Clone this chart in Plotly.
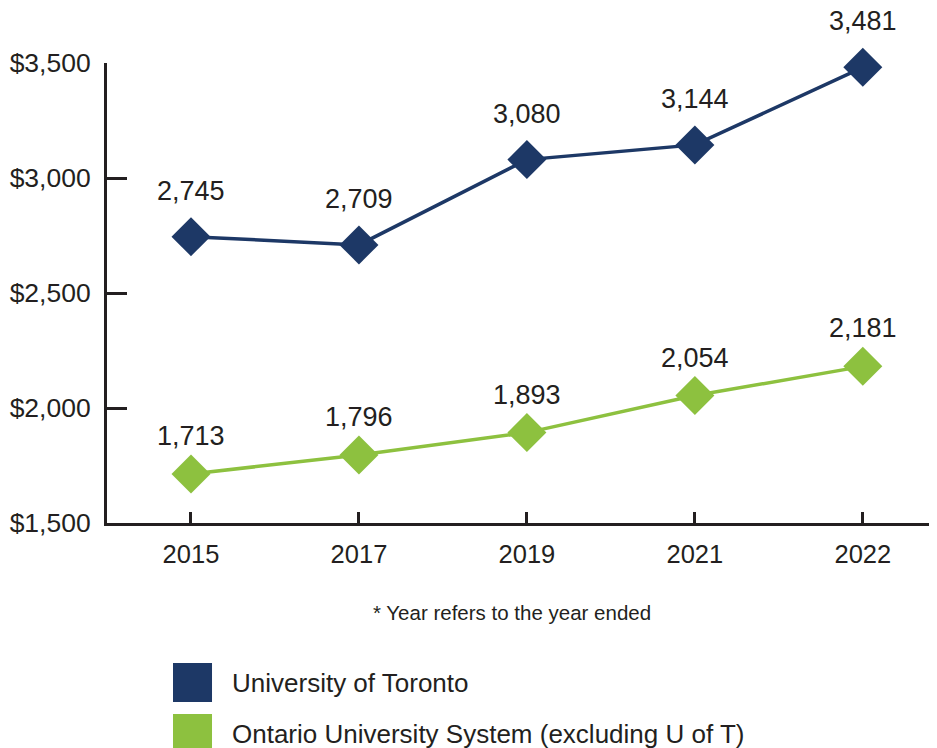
import plotly.graph_objects as go

years = ['2015', '2017', '2019', '2021', '2022']
uoft = [2745, 2709, 3080, 3144, 3481]
ontario = [1713, 1796, 1893, 2054, 2181]
y_ticks = [1500, 2000, 2500, 3000, 3500]
y_ticklabels = ['$1,500', '$2,000', '$2,500', '$3,000', '$3,500']
series_names = ['University of Toronto', 'Ontario University System (excluding U of T)']

navy = '#1d3866'
green = '#8dc13f'
ink = '#231f20'
font_fam = 'Liberation Sans, Arial, sans-serif'

x = list(range(len(years)))

fig = go.Figure()
fig.add_trace(go.Scatter(x=x, y=uoft, mode='lines+markers',
                         name=series_names[0],
                         line=dict(color=navy, width=3.5),
                         marker=dict(symbol='diamond', size=30, color=navy),
                         cliponaxis=False, showlegend=False))
fig.add_trace(go.Scatter(x=x, y=ontario, mode='lines+markers',
                         name=series_names[1],
                         line=dict(color=green, width=3.5),
                         marker=dict(symbol='diamond', size=30, color=green),
                         cliponaxis=False, showlegend=False))

# value labels above the markers
for vals, shift in ((uoft, 46), (ontario, 38)):
    for xi, v in zip(x, vals):
        fig.add_annotation(x=xi, y=v, text='{:,}'.format(v), showarrow=False,
                           yshift=shift, font=dict(size=27, color=ink))

# footnote
fig.add_annotation(xref='paper', yref='paper', x=0.492, y=-0.1935,
                   text='* Year refers to the year ended', showarrow=False,
                   font=dict(size=20.5, color=ink), xanchor='center', yanchor='middle')

# legend drawn by hand (plotly legend swatches are too small)
for i, (name, col) in enumerate(zip(series_names, [navy, green])):
    y1 = -0.3043 - i * 0.1109
    fig.add_shape(type='rect', xref='paper', yref='paper',
                  x0=0.0802, x1=0.1276, y0=y1 - 0.0847, y1=y1,
                  fillcolor=col, line=dict(width=0))
    fig.add_annotation(xref='paper', yref='paper', x=0.1495, y=y1 - 0.0437,
                       text=name, showarrow=False, xanchor='left', yanchor='middle',
                       font=dict(size=26, color=ink))

fig.update_layout(width=937, height=748,
                  margin=dict(l=99, r=15, t=55, b=233),
                  paper_bgcolor='white', plot_bgcolor='white',
                  font=dict(family=font_fam, size=25, color=ink),
                  showlegend=False)
fig.update_xaxes(range=[-0.5, 4.4], tickvals=x, ticktext=years,
                 automargin=False, showgrid=False, zeroline=False,
                 showline=True, linecolor=ink, linewidth=3,
                 ticks='inside', ticklen=11, tickwidth=2.5, tickcolor=ink,
                 ticklabelstandoff=6,
                 tickfont=dict(size=25.5, color=ink))
fig.update_yaxes(range=[1500, 3500], tickvals=y_ticks, ticktext=y_ticklabels,
                 automargin=False, showgrid=False, zeroline=False,
                 showline=True, linecolor=ink, linewidth=3,
                 ticks='inside', ticklen=20, tickwidth=3, tickcolor=ink,
                 ticklabelstandoff=8,
                 tickfont=dict(size=26.5, color=ink))

fig.write_html("out.html")
